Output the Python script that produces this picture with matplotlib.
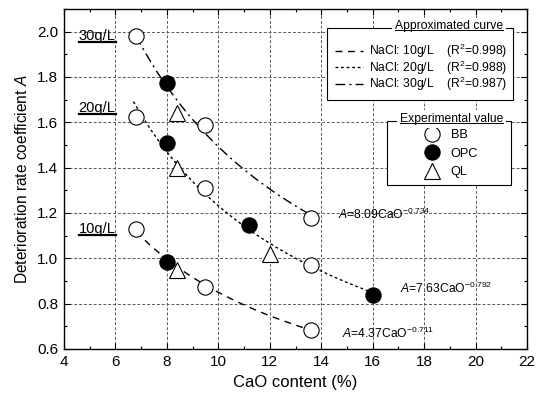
import numpy as np
import matplotlib
matplotlib.use("Agg")
import matplotlib.pyplot as plt
from matplotlib.lines import Line2D
from matplotlib.patches import Rectangle

plt.rcParams['font.family'] = ['Liberation Sans', 'DejaVu Sans']
plt.rcParams['mathtext.fontset'] = 'custom'
plt.rcParams['mathtext.rm'] = 'Liberation Sans'
plt.rcParams['mathtext.it'] = 'Liberation Sans:italic'
plt.rcParams['mathtext.bf'] = 'Liberation Sans:bold'

# ---- data ----
# Experimental values: (CaO content, A) per NaCl concentration and material
bb_10_x = [6.8, 9.5, 13.6];   bb_10_y = [1.13, 0.875, 0.685]
opc_10_x = [8.0];             opc_10_y = [0.985]
ql_10_x = [8.4];              ql_10_y = [0.95]

bb_20_x = [6.8, 9.5, 13.6];   bb_20_y = [1.625, 1.31, 0.97]
opc_20_x = [8.0, 11.2, 16.0]; opc_20_y = [1.51, 1.145, 0.84]
ql_20_x = [8.4, 12.0];        ql_20_y = [1.40, 1.02]

bb_30_x = [6.8, 9.5, 13.6];   bb_30_y = [1.98, 1.59, 1.18]
opc_30_x = [8.0];             opc_30_y = [1.775]
ql_30_x = [8.4];              ql_30_y = [1.64]

# Approximated curves A = a * CaO^b
coef_10 = (4.37, -0.711); range_10 = (6.8, 13.6)
coef_20 = (7.63, -0.792); range_20 = (6.7, 16.0)
coef_30 = (8.09, -0.734); range_30 = (6.8, 13.6)
r2 = [0.998, 0.988, 0.987]
nacl = ['10g/L', '20g/L', '30g/L']
materials = ['BB', 'OPC', 'QL']

fig = plt.figure(figsize=(5.37, 3.99), dpi=100)
ax = fig.add_axes([64/537, 1-349/399, 463/537, 340/399])

grid_kw = dict(color='0.35', lw=0.7, ls=(0, (3, 2)))
ax.grid(True, which='major', **grid_kw)
ax.set_axisbelow(True)

styles = [(0, (5, 4)), (0, (2, 2)), (0, (7, 3, 1.5, 3))]
for (a, b), (x0, x1), ls in zip([coef_10, coef_20, coef_30], [range_10, range_20, range_30], styles):
    xs = np.linspace(x0, x1, 200)
    ax.plot(xs, a * xs ** b, color='black', lw=1.0, ls=ls, zorder=2)

ms = 11
ok = dict(mfc='white', mec='black', mew=0.8, ls='none', zorder=3, clip_on=False)
fk = dict(mfc='black', mec='black', mew=0.8, ls='none', zorder=3, clip_on=False)
for x, y in [(bb_10_x, bb_10_y), (bb_20_x, bb_20_y), (bb_30_x, bb_30_y)]:
    ax.plot(x, y, 'o', ms=ms, **ok)
for x, y in [(opc_10_x, opc_10_y), (opc_20_x, opc_20_y), (opc_30_x, opc_30_y)]:
    ax.plot(x, y, 'o', ms=ms, **fk)
for x, y in [(ql_10_x, ql_10_y), (ql_20_x, ql_20_y), (ql_30_x, ql_30_y)]:
    ax.plot(x, y, '^', ms=12, **ok)

ax.set_xlim(4, 22)
ax.set_ylim(0.6, 2.1)
ax.set_xticks(np.arange(4, 23, 2))
ax.set_xticks(np.arange(4, 23, 1), minor=True)
ax.set_yticks(np.arange(0.6, 2.01, 0.2))
ax.set_yticks(np.arange(0.6, 2.11, 0.1), minor=True)
ax.yaxis.set_major_formatter(matplotlib.ticker.FormatStrFormatter('%.1f'))
ax.tick_params(which='both', direction='in', top=True, right=True, labelsize=11, width=0.8)
ax.tick_params(which='major', length=4, pad=4)
ax.tick_params(which='minor', length=2.5)
for s in ax.spines.values():
    s.set_linewidth(1.0)

ax.set_xlabel('CaO content (%)', fontsize=12, labelpad=5)
ax.set_ylabel(r'Deterioration rate coefficient $\it{A}$', fontsize=11.2, labelpad=5)

LFS = 8.7
# legend 1 (approximated curves)
h1 = [Line2D([], [], color='black', lw=1.0, ls=s) for s in styles]
lab1 = [f'NaCl: {n}    (R$^{{\\rm 2}}$={r:.3f})' for n, r in zip(nacl, r2)]
leg1 = ax.legend(h1, lab1, loc='center left', bbox_to_anchor=(0.585, 0.828),
                 fontsize=LFS, frameon=False, handlelength=2.3, handletextpad=0.55,
                 borderpad=0, labelspacing=-0.15, borderaxespad=0)
ax.add_artist(leg1)
ax.add_patch(Rectangle((0.568, 0.732), 0.970 - 0.568, 0.944 - 0.732, transform=ax.transAxes,
                       facecolor='white', edgecolor='black', lw=0.8, zorder=4))
leg1.set_zorder(5)

# legend 2 (experimental values)
h2 = [Line2D([], [], marker='o', ms=11, mfc='white', mec='black', mew=0.8, ls='none'),
      Line2D([], [], marker='o', ms=11, mfc='black', mec='black', mew=0.8, ls='none'),
      Line2D([], [], marker='^', ms=12, mfc='white', mec='black', mew=0.8, ls='none')]
leg2 = ax.legend(h2, materials, loc='center left', bbox_to_anchor=(0.776, 0.574),
                 fontsize=LFS + 0.5, frameon=False, handlelength=1.4, handletextpad=0.75,
                 borderpad=0, labelspacing=0.5, borderaxespad=0)
ax.add_patch(Rectangle((0.698, 0.482), 0.965 - 0.698, 0.671 - 0.482, transform=ax.transAxes,
                       facecolor='white', edgecolor='black', lw=0.8, zorder=4))
leg2.set_zorder(5)

ul = []
ul.append(ax.text(0.948, 0.940, 'Approximated curve', transform=ax.transAxes, ha='right',
                  va='baseline', fontsize=LFS, zorder=6,
                  bbox=dict(facecolor='white', edgecolor='none', pad=2.0)))
ul.append(ax.text(0.948, 0.667, 'Experimental value', transform=ax.transAxes, ha='right',
                  va='baseline', fontsize=LFS, zorder=6,
                  bbox=dict(facecolor='white', edgecolor='none', pad=2.0)))

# concentration labels
ul.append(ax.text(4.57, 1.98, '30g/L', fontsize=10.5, va='center', ha='left'))
ul.append(ax.text(4.57, 1.665, '20g/L', fontsize=10.5, va='center', ha='left'))
ul.append(ax.text(4.57, 1.13, '10g/L', fontsize=10.5, va='center', ha='left'))

fig.canvas.draw()
r = fig.canvas.get_renderer()
for t in ul:
    bb = t.get_window_extent(r)
    big = t.get_fontsize() > 9.5
    lw = 1.6 if big else 0.7
    yoff = 1.0 if big else 2.0
    fig.add_artist(Line2D([bb.x0 / fig.bbox.width, bb.x1 / fig.bbox.width],
                          [(bb.y0 + yoff) / fig.bbox.height] * 2, color='black', lw=lw, zorder=11))

ax.text(14.65, 1.195, r'$\it{A}$=8.09CaO$^{\rm{-0.734}}$', fontsize=LFS, va='center')
ax.text(17.06, 0.869, r'$\it{A}$=7.63CaO$^{\rm{-0.792}}$', fontsize=LFS, va='center')
ax.text(14.81, 0.671, r'$\it{A}$=4.37CaO$^{\rm{-0.711}}$', fontsize=LFS, va='center')

fig.savefig('out.png', dpi=100)
